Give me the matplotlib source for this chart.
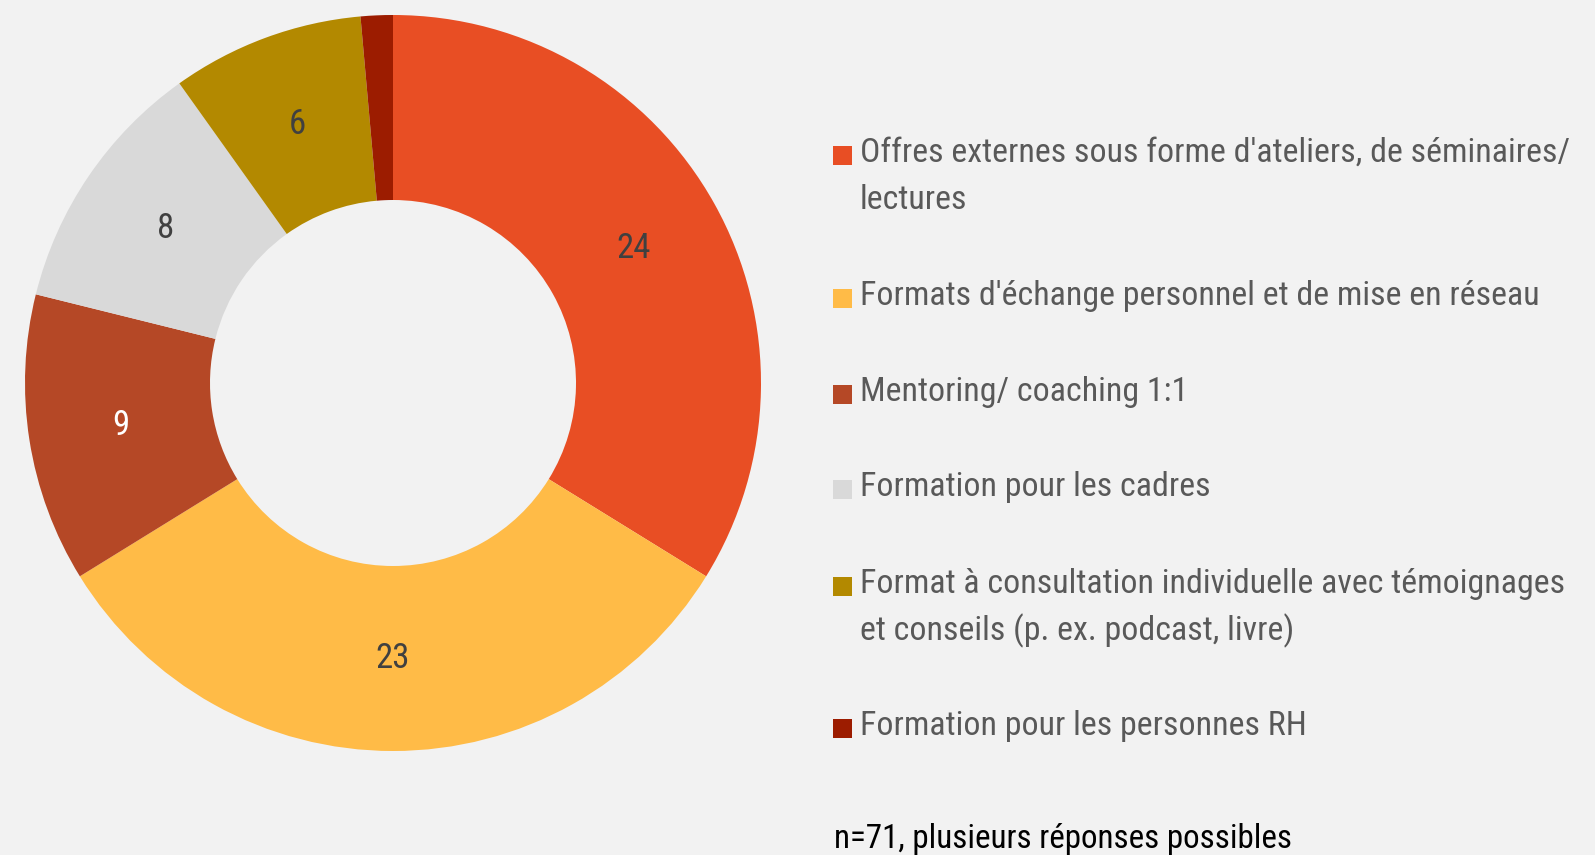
import matplotlib
matplotlib.use("Agg")
import matplotlib.pyplot as plt
from matplotlib.patches import Rectangle
from matplotlib import font_manager
import numpy as np

categories = [
    "Offres externes sous forme d'ateliers, de séminaires/\nlectures",
    "Formats d'échange personnel et de mise en réseau",
    "Mentoring/ coaching 1:1",
    "Formation pour les cadres",
    "Format à consultation individuelle avec témoignages\net conseils (p. ex. podcast, livre)",
    "Formation pour les personnes RH",
]
values = [24, 23, 9, 8, 6, 1]
colors = ["#E84E24", "#FFBB47", "#B54826", "#D9D9D9", "#B38900", "#9C1C00"]
label_colors = ["#404040", "#404040", "#FFFFFF", "#404040", "#404040", "#404040"]
footnote = "n=71, plusieurs réponses possibles"

names = {f.name for f in font_manager.fontManager.ttflist}
main = "Liberation Sans"
for cand in ["Liberation Sans Narrow", "Arial Narrow", "Roboto Condensed", "Archivo Narrow"]:
    if cand in names:
        main = cand
        break
plt.rcParams["font.family"] = [main, "DejaVu Sans"]

W, H = 1595, 855
fig = plt.figure(figsize=(W / 100, H / 100), dpi=100, facecolor="#F2F2F2")

cx, cy, R = 393, 383, 368
ax = fig.add_axes([(cx - R) / W, (H - cy - R) / H, 2 * R / W, 2 * R / H])
ax.set_facecolor("#F2F2F2")
inner = 183 / R
width = 1 - inner
ax.pie(values, colors=colors, startangle=90, counterclock=False, radius=1,
       wedgeprops=dict(width=width, edgecolor="none"))
ax.set_xlim(-1, 1)
ax.set_ylim(-1, 1)
ax.set_aspect("equal")
ax.axis("off")

total = sum(values)
mid_r = (1 + inner) / 2
cum = 0
for v, lc in zip(values, label_colors):
    if v >= 2:
        ang = np.deg2rad(90 - (cum + v / 2) / total * 360)
        ax.text(mid_r * np.cos(ang), mid_r * np.sin(ang), str(v), ha="center", va="center",
                fontsize=25, color=lc)
    cum += v

# legend
leg_y = [153, 296, 392, 487, 584, 726]
line_h = 47
for cat, col, y in zip(categories, colors, leg_y):
    fig.patches.append(Rectangle((833 / W, 1 - (y + 12) / H), 19 / W, 19 / H,
                                 transform=fig.transFigure, facecolor=col, edgecolor="none"))
    for i, line in enumerate(cat.split("\n")):
        fig.text(860 / W, 1 - (y + i * line_h) / H, line, ha="left", va="center",
                 fontsize=24.4, color="#595959")

fig.text(834 / W, 1 - 839 / H, footnote, ha="left", va="center", fontsize=23.8, color="#000000")

fig.savefig("out.png", dpi=100, facecolor=fig.get_facecolor())
